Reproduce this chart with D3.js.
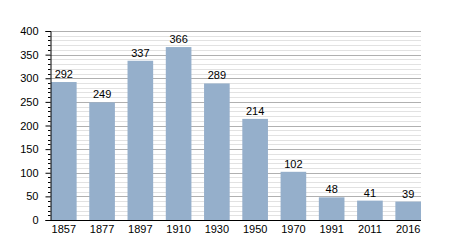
<!DOCTYPE html>
<html>
<head>
<meta charset="utf-8">
<script src="https://cdn.jsdelivr.net/npm/d3@7"></script>
<style>
  body { margin: 0; background: #fff; }
  svg text { font-family: "Liberation Sans", Arial, sans-serif; }
</style>
</head>
<body>
<div id="chart"></div>
<script>
const years = ['1857', '1877', '1897', '1910', '1930', '1950', '1970', '1991', '2011', '2016'];
const population = [292, 249, 337, 366, 289, 214, 102, 48, 41, 39];
const yTicks = [0, 50, 100, 150, 200, 250, 300, 350, 400];

const width = 450, height = 250;
const margin = { top: 31, right: 29, bottom: 30, left: 50 };

const svg = d3.select('#chart')
  .append('svg')
  .attr('width', width)
  .attr('height', height);

const x = d3.scaleBand()
  .domain(years)
  .range([margin.left + 1, width - margin.right])
  .paddingInner(0.33)
  .paddingOuter(0);

const y = d3.scaleLinear()
  .domain([0, 400])
  .range([height - margin.bottom, margin.top]);

// minor gridlines every 10
const minor = d3.range(10, 400, 10).filter(v => v % 50 !== 0);
svg.append('g')
  .selectAll('line')
  .data(minor)
  .enter().append('line')
  .attr('x1', margin.left)
  .attr('x2', width - margin.right)
  .attr('y1', d => Math.round(y(d)) + 0.5)
  .attr('y2', d => Math.round(y(d)) + 0.5)
  .attr('stroke', '#e2e2e2');

// major gridlines
svg.append('g')
  .selectAll('line')
  .data(yTicks.filter(v => v > 0))
  .enter().append('line')
  .attr('x1', margin.left)
  .attr('x2', width - margin.right)
  .attr('y1', d => Math.round(y(d)) + 0.5)
  .attr('y2', d => Math.round(y(d)) + 0.5)
  .attr('stroke', '#b0b0b0');

// bars
svg.selectAll('.bar')
  .data(population)
  .enter().append('rect')
  .attr('class', 'bar')
  .attr('x', (d, i) => x(years[i]))
  .attr('y', d => y(d))
  .attr('width', x.bandwidth())
  .attr('height', d => y(0) - y(d))
  .attr('fill', '#95afcb');

// value labels
svg.selectAll('.label')
  .data(population)
  .enter().append('text')
  .attr('class', 'label')
  .attr('x', (d, i) => x(years[i]) + x.bandwidth() / 2)
  .attr('y', d => y(d) - 4)
  .attr('text-anchor', 'middle')
  .attr('font-size', 11)
  .attr('fill', '#000')
  .text(d => d);

// y axis with minor ticks
const yAxis = svg.append('g')
  .attr('transform', `translate(${margin.left + 0.5},0)`);

yAxis.call(d3.axisLeft(y).tickValues(yTicks).tickSize(5).tickPadding(7))
  .call(g => g.select('.domain').attr('stroke', '#000'))
  .call(g => g.selectAll('.tick text').attr('font-size', 11).attr('fill', '#000')
    .style('font-family', '"Liberation Sans", Arial, sans-serif'));

yAxis.selectAll('.minor')
  .data(minor)
  .enter().append('line')
  .attr('class', 'minor')
  .attr('x1', -2.5)
  .attr('x2', 0)
  .attr('y1', d => Math.round(y(d)) + 0.5)
  .attr('y2', d => Math.round(y(d)) + 0.5)
  .attr('stroke', '#000');

// x axis
svg.append('g')
  .attr('transform', `translate(0,${height - margin.bottom + 0.5})`)
  .call(d3.axisBottom(x).tickSize(0).tickPadding(5))
  .call(g => g.select('.domain').attr('stroke', '#000').attr('d', `M${margin.left},0H${width - margin.right}`))
  .call(g => g.selectAll('.tick text').attr('font-size', 11).attr('fill', '#000')
    .style('font-family', '"Liberation Sans", Arial, sans-serif'));
</script>
</body>
</html>
